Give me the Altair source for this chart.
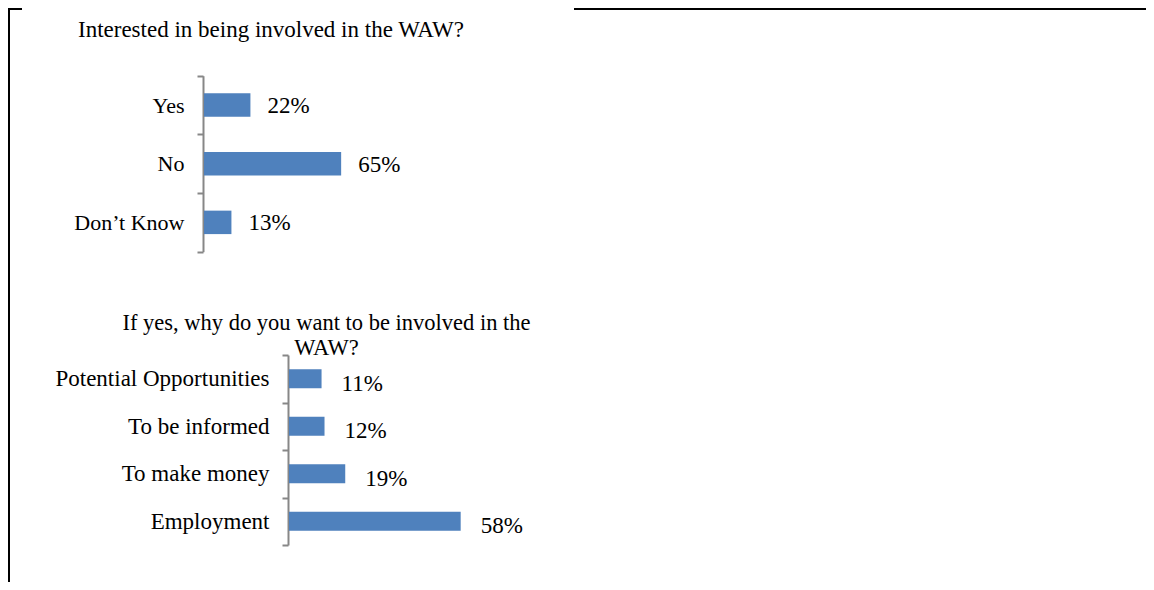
import altair as alt
import pandas as pd

# ---- data ----
q1_title = "Interested in being involved in the WAW?"
q1_categories = ["Yes", "No", "Don\u2019t Know"]
q1_values = [0.22, 0.65, 0.13]

q2_title = ["If yes, why do you want to be involved in the", "WAW?"]
q2_categories = ["Potential Opportunities", "To be informed", "To make money", "Employment"]
q2_values = [0.11, 0.12, 0.19, 0.58]

FONT = "Liberation Serif"
BAR = "#4F81BD"
AXIS_GREY = "#878787"

df1 = pd.DataFrame({"category": q1_categories, "value": q1_values})
df2 = pd.DataFrame({"category": q2_categories, "value": q2_values})


def yaxis(offset, label_size):
    return alt.Axis(
        orient="left", offset=offset, title=None, grid=False,
        domainColor=AXIS_GREY, domainWidth=2,
        tickColor=AXIS_GREY, tickWidth=2, tickSize=6, tickBand="extent",
        labelFont=FONT, labelFontSize=label_size, labelColor="black",
        labelPadding=13, labelLimit=400,
    )


def panel(df, cats, y_range, x_range, axis_offset, label_size, dx, dy):
    base = alt.Chart(df)
    y = alt.Y("category:N", sort=cats,
              scale=alt.Scale(range=y_range, paddingInner=0, paddingOuter=0),
              axis=yaxis(axis_offset, label_size))
    x = alt.X("value:Q", scale=alt.Scale(domain=[0, 1], range=x_range, nice=False),
              axis=None)
    bars = base.mark_bar(color=BAR, height={"band": 0.4}).encode(x=x, y=y)
    labels = base.mark_text(
        align="left", baseline="alphabetic", dx=dx, dy=dy,
        font=FONT, fontSize=23, color="black",
    ).encode(x=x, y=y, text=alt.Text("value:Q", format=".0%"))
    return alt.layer(bars, labels)


chart1 = panel(df1, q1_categories, [67.7, 243.7], [196, 407], -195, 22, 17, 8)
chart2 = panel(df2, q2_categories, [347, 537], [281, 577], -280, 23, 20, 12)

title1 = alt.Chart(pd.DataFrame({"t": [q1_title]})).mark_text(
    align="center", baseline="alphabetic", font=FONT, fontSize=23, color="black"
).encode(x=alt.value(263), y=alt.value(29), text="t:N")

title2 = alt.Chart(pd.DataFrame({"t": [q2_title]})).mark_text(
    align="center", baseline="alphabetic", font=FONT, fontSize=22.5, color="black",
    lineHeight=25,
).encode(x=alt.value(318.5), y=alt.value(322), text="t")

one = pd.DataFrame({"a": [0]})
frame_left = alt.Chart(one).mark_rule(color="black", strokeWidth=2).encode(
    x=alt.value(1), y=alt.value(0), y2=alt.value(574))
frame_top_left = alt.Chart(one).mark_rule(color="black", strokeWidth=2).encode(
    x=alt.value(0), x2=alt.value(14), y=alt.value(1))
frame_top_right = alt.Chart(one).mark_rule(color="black", strokeWidth=2).encode(
    x=alt.value(566), x2=alt.value(1138), y=alt.value(1))

chart = alt.layer(
    chart1, chart2, title1, title2, frame_left, frame_top_left, frame_top_right
).resolve_scale(
    x="independent", y="independent"
).properties(
    width=1138, height=574, padding=0, background="white",
    autosize=alt.AutoSizeParams(type="none"),
).configure_view(stroke=None)

chart.save("out.html", embed_options={"renderer": "svg", "actions": False})
